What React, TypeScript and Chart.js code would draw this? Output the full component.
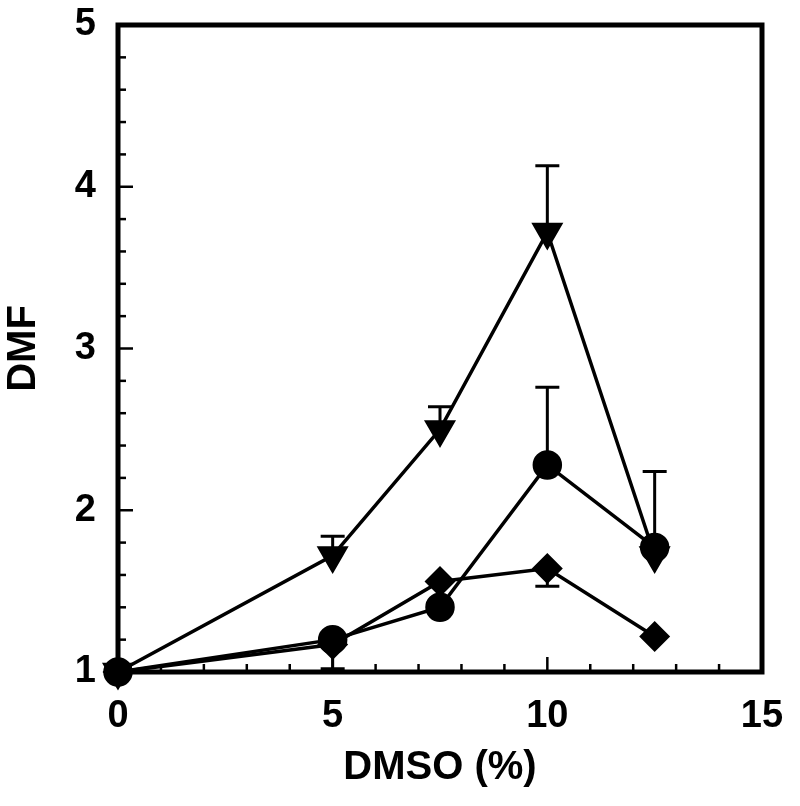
import React, { useEffect, useRef } from "react";
import { Chart, registerables } from "chart.js";
Chart.register(...registerables);

const dmso = [0, 5, 7.5, 10, 12.5];
const triangleVals = [1, 1.72, 2.5, 3.72, 1.72];
const triangleErrUp = [0, 1.84, 2.64, 4.13, 0];
const circleVals = [1, 1.2, 1.4, 2.28, 1.77];
const circleErrUp = [0, 0, 0, 2.76, 2.24];
const circleErrDown = [0, 1.02, 0, 0, 0];
const diamondVals = [1, 1.17, 1.56, 1.64, 1.22];
const diamondErrDown = [0, 0, 0, 1.53, 0];
const xTicks = [0, 5, 10, 15];
const yTicks = [1, 2, 3, 4, 5];

const FONT = "'Liberation Sans', Arial, sans-serif";

const framePlugin = {
  id: "frameAndErrors",
  beforeDatasetsDraw(chart: any) {
    const { ctx, chartArea, scales } = chart;
    const xs = scales.x;
    const ys = scales.y;
    ctx.save();
    ctx.strokeStyle = "#000";
    ctx.lineWidth = 5;
    ctx.strokeRect(chartArea.left, chartArea.top, chartArea.right - chartArea.left, chartArea.bottom - chartArea.top);
    ctx.lineWidth = 2.5;
    for (let v = 0; v <= 15; v += 1) {
      const px = xs.getPixelForValue(v);
      const len = v % 5 === 0 ? 15 : 8;
      ctx.beginPath();
      ctx.moveTo(px, chartArea.bottom);
      ctx.lineTo(px, chartArea.bottom - len);
      ctx.stroke();
    }
    for (let k = 0; k <= 20; k++) {
      const v = 1 + k * 0.2;
      const py = ys.getPixelForValue(v);
      const len = k % 5 === 0 ? 15 : 8;
      ctx.beginPath();
      ctx.moveTo(chartArea.left, py);
      ctx.lineTo(chartArea.left + len, py);
      ctx.stroke();
    }
    const bars: [number[], number[]][] = [
      [triangleVals, triangleErrUp],
      [circleVals, circleErrUp],
      [circleVals, circleErrDown],
      [diamondVals, diamondErrDown],
    ];
    ctx.lineWidth = 3;
    bars.forEach(([vals, errs]) => {
      errs.forEach((e, i) => {
        if (!e) return;
        const px = xs.getPixelForValue(dmso[i]);
        const py0 = ys.getPixelForValue(vals[i]);
        const py1 = ys.getPixelForValue(e);
        ctx.beginPath();
        ctx.moveTo(px, py0);
        ctx.lineTo(px, py1);
        ctx.moveTo(px - 12, py1);
        ctx.lineTo(px + 12, py1);
        ctx.stroke();
      });
    });
    ctx.restore();
  },
};

export default function App() {
  const ref = useRef<HTMLCanvasElement>(null);
  useEffect(() => {
    document.body.style.margin = "0";
    const mk = (vals: number[]) => dmso.map((x, i) => ({ x, y: vals[i] }));
    const common = {
      borderColor: "#000",
      backgroundColor: "#000",
      pointBackgroundColor: "#000",
      pointBorderColor: "#000",
      borderWidth: 3.5,
      showLine: true,
      tension: 0,
      clip: false as const,
    };
    const chart = new Chart(ref.current!, {
      type: "scatter",
      data: {
        datasets: [
          { ...common, data: mk(diamondVals), pointStyle: "rectRot", pointRadius: 13, order: 3 },
          { ...common, data: mk(triangleVals), pointStyle: "triangle", pointRotation: 180, pointRadius: 15, order: 2 },
          { ...common, data: mk(circleVals), pointStyle: "circle", pointRadius: 13, order: 1 },
        ],
      },
      options: {
        animation: false,
        responsive: false,
        maintainAspectRatio: false,
        layout: { padding: { left: 0, right: 38, top: 25, bottom: 0 } },
        plugins: { legend: { display: false }, tooltip: { enabled: false } },
        scales: {
          x: {
            type: "linear",
            min: 0,
            max: 15,
            afterBuildTicks: (s: any) => { s.ticks = xTicks.map((v) => ({ value: v })); },
            afterFit: (s: any) => { s.height = 134; s.paddingLeft = 0; s.paddingRight = 0; },
            grid: { display: false },
            border: { display: false },
            ticks: { color: "#000", padding: 14, font: { family: FONT, size: 38, weight: "bold" } },
            title: { display: true, text: "DMSO (%)", color: "#000", padding: { top: 0, bottom: 14 }, font: { family: FONT, size: 40, weight: "bold" } },
          },
          y: {
            type: "linear",
            min: 1,
            max: 5,
            afterBuildTicks: (s: any) => { s.ticks = yTicks.map((v) => ({ value: v })); },
            afterFit: (s: any) => { s.width = 118; s.paddingTop = 0; s.paddingBottom = 0; },
            grid: { display: false },
            border: { display: false },
            ticks: { color: "#000", padding: 14, font: { family: FONT, size: 38, weight: "bold" } },
            title: { display: true, text: "DMF", color: "#000", padding: { top: 0, bottom: 0 }, font: { family: FONT, size: 40, weight: "bold" } },
          },
        },
      },
      plugins: [framePlugin],
    });
    return () => chart.destroy();
  }, []);
  return (
    <div style={{ width: 800, height: 806, background: "#fff" }}>
      <canvas ref={ref} width={800} height={806} style={{ display: "block" }} />
    </div>
  );
}
